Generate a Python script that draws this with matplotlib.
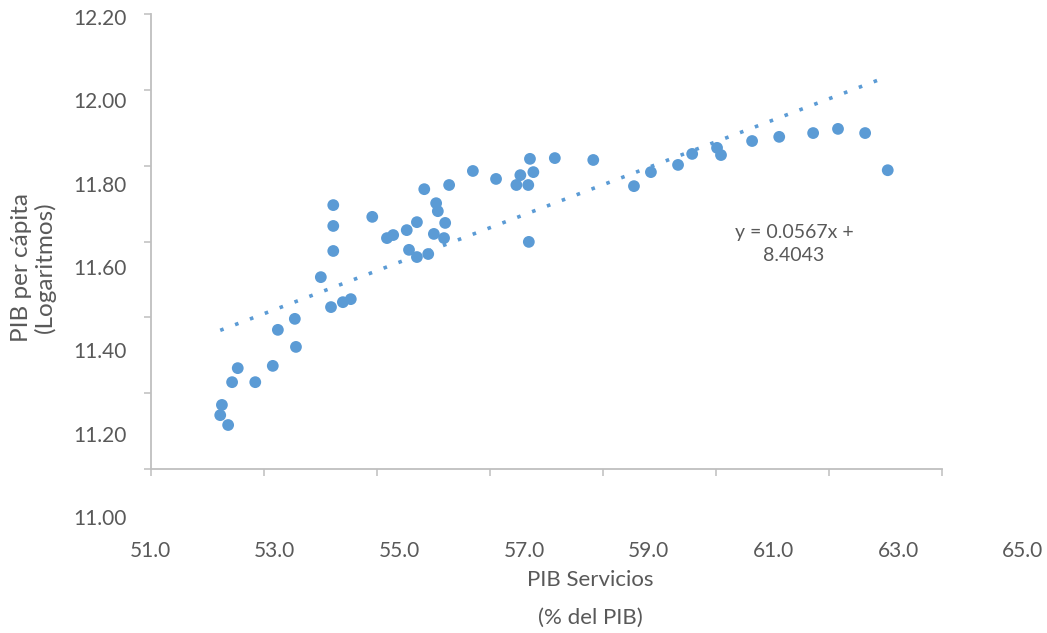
import matplotlib

matplotlib.use("Agg")
import matplotlib.pyplot as plt
import numpy as np

plt.rcParams["font.family"] = ["Lato", "DejaVu Sans"]

# share of services in GDP (%) and log GDP per capita
servicios = [
    52.23, 52.26, 52.37, 52.44, 52.54, 52.85, 53.16, 53.25, 53.55, 53.57,
    54.23, 54.23, 54.23, 54.92, 54.01, 54.19, 54.40, 54.54,
    55.84, 56.28, 56.70, 57.11, 57.47, 57.54, 57.68, 57.71, 57.77, 57.69,
    56.05, 56.08, 55.71, 56.21, 55.53, 55.18, 55.29, 56.01, 56.19, 55.57,
    55.71, 55.91,
    58.15, 58.83, 59.55, 59.85, 60.33, 60.58,
    61.02, 61.09, 61.64, 62.12, 62.72, 63.16, 63.64, 64.04,
]
pib_pc = [
    11.142, 11.169, 11.116, 11.229, 11.266, 11.229, 11.272, 11.367, 11.396, 11.322,
    11.696, 11.641, 11.575, 11.665, 11.506, 11.427, 11.440, 11.448,
    11.738, 11.749, 11.786, 11.765, 11.749, 11.775, 11.749, 11.818, 11.783, 11.599,
    11.701, 11.680, 11.651, 11.649, 11.630, 11.609, 11.617, 11.620, 11.609, 11.578,
    11.559, 11.567,
    11.820, 11.815, 11.746, 11.783, 11.802, 11.831,
    11.847, 11.828, 11.865, 11.876, 11.886, 11.897, 11.886, 11.788,
]
trend_slope = 0.0567
trend_intercept = 8.4043

x_ticks = [51, 53, 55, 57, 59, 61, 63, 65]
y_ticks = [11.0, 11.2, 11.4, 11.6, 11.8, 12.0, 12.2]

BLUE = "#5B9BD5"
GREY_TXT = "#595959"
GREY_AX = "#BFBFBF"

W, H = 1047, 633
fig = plt.figure(figsize=(W / 100, H / 100), dpi=100)


def px_box(left, top, right, bottom):
    return [left / W, 1 - bottom / H, (right - left) / W, (bottom - top) / H]


# plotting axes (spines + tick marks)
ax = fig.add_axes(px_box(150.7, 14, 942, 469))
ax.set_xlim(51, 65)
ax.set_ylim(11.0, 12.2)
ax.set_xticks(x_ticks)
ax.set_yticks(y_ticks)
ax.set_xticklabels([])
ax.set_yticklabels([])
for side in ("top", "right"):
    ax.spines[side].set_visible(False)
for side in ("left", "bottom"):
    ax.spines[side].set_color(GREY_AX)
    ax.spines[side].set_linewidth(1.3)
ax.tick_params(length=5, width=1.1, color=GREY_AX, direction="out")

xs = np.array(servicios)
ax.scatter(xs, pib_pc, s=72, color=BLUE, edgecolors="none", zorder=3)

xt = np.array([xs.min(), xs.max()])
ax.plot(xt, trend_slope * xt + trend_intercept, color=BLUE, lw=2.6,
        linestyle=(0, (1, 3.4)), dash_capstyle="butt", zorder=2)

ax.text(62.38, 11.593, f"y = {trend_slope:.4f}x +\n{trend_intercept:.4f}",
        ha="center", va="center", fontsize=14, color=GREY_TXT,
        linespacing=1.45)

# tick labels sit on their own (wider) frame, as in the source picture
lab = fig.add_axes(px_box(150, 17, 1023, 517), frameon=False)
lab.set_xlim(51, 65)
lab.set_ylim(11.0, 12.2)
lab.set_xticks(x_ticks)
lab.set_yticks(y_ticks)
lab.set_xticklabels([f"{v:.1f}" for v in x_ticks])
lab.set_yticklabels([f"{v:.2f}" for v in y_ticks])
lab.tick_params(length=0, pad=17, labelsize=15, labelcolor=GREY_TXT)
lab.patch.set_visible(False)

fig.text(22 / W, 1 - 267 / H, "PIB per cápita", rotation=90, ha="center",
         va="center", fontsize=17.5, color=GREY_TXT)
fig.text(45 / W, 1 - 267 / H, "(Logaritmos)", rotation=90, ha="center",
         va="center", fontsize=17.5, color=GREY_TXT)
fig.text(590 / W, 1 - 580 / H, "PIB Servicios", ha="center", va="center",
         fontsize=16, color=GREY_TXT)
fig.text(590 / W, 1 - 618 / H, "(% del PIB)", ha="center", va="center",
         fontsize=16, color=GREY_TXT)

fig.savefig("out.png", dpi=100)
plt.close(fig)
